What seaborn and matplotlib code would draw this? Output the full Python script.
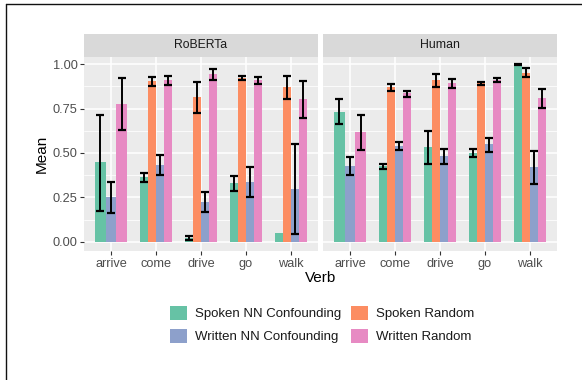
import numpy as np
import pandas as pd
import matplotlib
matplotlib.use("Agg")
import matplotlib.pyplot as plt
from matplotlib.patches import Patch
from matplotlib.lines import Line2D
from matplotlib.ticker import FixedLocator
import seaborn as sns

nan = np.nan
verbs = ["arrive", "come", "drive", "go", "walk"]
conditions = ["Spoken NN Confounding", "Spoken Random",
              "Written NN Confounding", "Written Random"]
colors = ["#66C2A5", "#FC8D62", "#8DA0CB", "#E78AC3"]
panels = ["RoBERTa", "Human"]

roberta_mean = {
    "Spoken NN Confounding": [0.448, 0.364, 0.021, 0.330, 0.049],
    "Spoken Random": [nan, 0.904, 0.814, 0.921, 0.871],
    "Written NN Confounding": [0.251, 0.432, 0.223, 0.336, 0.296],
    "Written Random": [0.775, 0.910, 0.944, 0.910, 0.803],
}
roberta_low = {
    "Spoken NN Confounding": [0.174, 0.336, 0.009, 0.285, nan],
    "Spoken Random": [nan, 0.876, 0.724, 0.910, 0.805],
    "Written NN Confounding": [0.161, 0.375, 0.169, 0.250, 0.041],
    "Written Random": [0.628, 0.882, 0.908, 0.887, 0.698],
}
roberta_high = {
    "Spoken NN Confounding": [0.715, 0.388, 0.034, 0.371, nan],
    "Spoken Random": [nan, 0.929, 0.901, 0.934, 0.934],
    "Written NN Confounding": [0.338, 0.490, 0.281, 0.422, 0.552],
    "Written Random": [0.921, 0.934, 0.974, 0.927, 0.906],
}
human_mean = {
    "Spoken NN Confounding": [0.730, 0.426, 0.533, 0.499, 1.000],
    "Spoken Random": [nan, 0.871, 0.910, 0.893, 0.949],
    "Written NN Confounding": [0.426, 0.538, 0.482, 0.550, 0.420],
    "Written Random": [0.617, 0.837, 0.891, 0.910, 0.809],
}
human_low = {
    "Spoken NN Confounding": [0.662, 0.409, 0.437, 0.475, 0.997],
    "Spoken Random": [nan, 0.848, 0.871, 0.882, 0.925],
    "Written NN Confounding": [0.375, 0.516, 0.437, 0.508, 0.326],
    "Written Random": [0.516, 0.816, 0.863, 0.897, 0.752],
}
human_high = {
    "Spoken NN Confounding": [0.805, 0.437, 0.625, 0.523, 1.000],
    "Spoken Random": [nan, 0.889, 0.946, 0.901, 0.977],
    "Written NN Confounding": [0.477, 0.563, 0.523, 0.585, 0.512],
    "Written Random": [0.713, 0.850, 0.917, 0.921, 0.859],
}

yticks = [0.0, 0.25, 0.5, 0.75, 1.0]
ytick_labels = ["0.00", "0.25", "0.50", "0.75", "1.00"]

sns.set_theme(style="white")
plt.rcParams["font.family"] = ["Liberation Sans", "DejaVu Sans"]

W, H = 582, 380
fig = plt.figure(figsize=(W / 100, H / 100), dpi=100)

def px_axes(x0, y0, x1, y1):
    return fig.add_axes([x0 / W, 1 - y1 / H, (x1 - x0) / W, (y1 - y0) / H])

panel_box = [(84, 57, 318, 251), (323, 57, 557, 251)]
strip_top = 34
group_width = 0.71
palette = dict(zip(conditions, colors))

def build_df(means, lows, highs):
    rows = []
    for c in conditions:
        for i, v in enumerate(verbs):
            rows.append(dict(Verb=v, Condition=c, Mean=means[c][i],
                             Low=lows[c][i], High=highs[c][i]))
    return pd.DataFrame(rows)

dfs = [build_df(roberta_mean, roberta_low, roberta_high),
       build_df(human_mean, human_low, human_high)]

for p, (name, df) in enumerate(zip(panels, dfs)):
    x0, y0, x1, y1 = panel_box[p]
    ax = px_axes(x0, y0, x1, y1)
    ax.set_facecolor("#EBEBEB")
    ax.set_axisbelow(True)
    for vi, v in enumerate(verbs):
        sub = df[(df.Verb == v) & df.Mean.notna()]
        present = [c for c in conditions if c in set(sub.Condition)]
        sns.barplot(data=sub, x="Verb", y="Mean", hue="Condition",
                    order=verbs, hue_order=present,
                    palette=[palette[c] for c in present],
                    width=group_width, errorbar=None, legend=False,
                    saturation=1, linewidth=0, ax=ax)
        n = len(present)
        bw = group_width / n
        for k, c in enumerate(present):
            r = sub[sub.Condition == c].iloc[0]
            if np.isnan(r.Low):
                continue
            xc = vi - group_width / 2 + bw * (k + 0.5)
            ax.errorbar([xc], [r.Mean], yerr=[[r.Mean - r.Low], [r.High - r.Mean]],
                        fmt="none", ecolor="black", elinewidth=1.4,
                        capsize=2.9, capthick=1.6, zorder=5)
    ax.set_xlim(-0.6, 4.6)
    ax.set_ylim(-0.052, 1.04)
    ax.yaxis.set_major_locator(FixedLocator(yticks))
    ax.yaxis.set_minor_locator(FixedLocator([0.125, 0.375, 0.625, 0.875]))
    ax.grid(True, which="major", color="white", linewidth=1.1)
    ax.grid(True, which="minor", axis="y", color="white", linewidth=0.55)
    for s in ax.spines.values():
        s.set_visible(False)
    ax.set_xlabel("")
    ax.set_ylabel("")
    ax.set_xticks(range(len(verbs)))
    ax.set_xticklabels(verbs)
    ax.tick_params(axis="x", which="major", length=2.75, width=0.8,
                   color="#333333", labelcolor="#4D4D4D", labelsize=9.2, pad=2,
                   bottom=True)
    ax.tick_params(axis="y", which="minor", length=0)
    if p == 0:
        ax.set_yticklabels(ytick_labels)
        ax.tick_params(axis="y", which="major", length=2.75, width=0.8,
                       color="#333333", labelcolor="#4D4D4D", labelsize=9.2, pad=2,
                       left=True)
    else:
        ax.tick_params(axis="y", which="major", length=0, labelleft=False)
    # strip
    sax = px_axes(x0, strip_top, x1, y0)
    sax.set_facecolor("#D9D9D9")
    sax.set_xticks([])
    sax.set_yticks([])
    for s in sax.spines.values():
        s.set_visible(False)
    sax.text(0.5, 0.5, name, ha="center", va="center", fontsize=8.8,
             color="#1A1A1A", transform=sax.transAxes)

fig.text(42 / W, 1 - 154 / H, "Mean", rotation=90, ha="center", va="center",
         fontsize=11, color="black")
fig.text(320.5 / W, 1 - 278 / H, "Verb", ha="center", va="center",
         fontsize=11, color="black")

order = [0, 2, 1, 3]
handles = [Patch(facecolor=colors[i], edgecolor="none") for i in order]
labels = [conditions[i] for i in order]
fig.legend(handles, labels, ncol=2, loc="center", bbox_to_anchor=(322 / W, 1 - 324.5 / H),
           frameon=False, fontsize=9.5, handlelength=1.3, handleheight=1.3,
           handletextpad=0.6, columnspacing=0.7, labelspacing=0.65,
           borderpad=0, labelcolor="#1A1A1A")

# frame lines of the reference
fig.add_artist(Line2D([5.5 / W, 5.5 / W], [0, 1 - 4 / H], color="#111111",
                      linewidth=1.0, transform=fig.transFigure))
fig.add_artist(Line2D([5.5 / W, 1], [1 - 4 / H, 1 - 4 / H], color="#111111",
                      linewidth=1.0, transform=fig.transFigure))

fig.savefig("out.png", dpi=100)
